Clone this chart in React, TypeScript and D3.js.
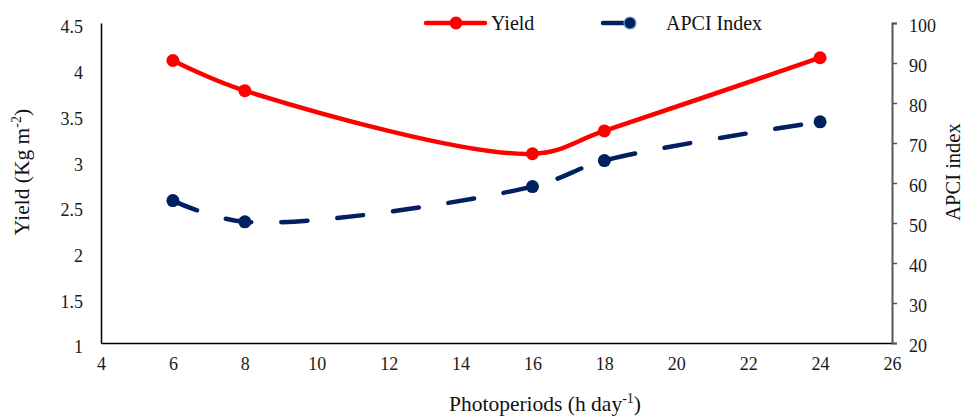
import React, { useEffect, useRef } from "react";
import * as d3 from "d3";

const photoperiods = [6, 8, 16, 18, 24];
const yieldValues = [4.09, 3.76, 3.07, 3.32, 4.12];
const apciValues = [55.6, 50.3, 59.1, 65.6, 75.3];

const xTicks = [4, 6, 8, 10, 12, 14, 16, 18, 20, 22, 24, 26];
const yieldTicks = [1, 1.5, 2, 2.5, 3, 3.5, 4, 4.5];
const apciTicks = [20, 30, 40, 50, 60, 70, 80, 90, 100];

const W = 966;
const H = 420;
const FONT = "'Liberation Serif', 'Times New Roman', serif";
const RED = "#ff0000";
const NAVY = "#002060";

export default function App() {
  const ref = useRef<SVGSVGElement>(null);

  useEffect(() => {
    const svg = d3.select(ref.current);
    svg.selectAll("*").remove();

    const left = 101, right = 892, top = 23, bottom = 343;

    const x = d3.scaleLinear().domain([4, 26]).range([left, right]);
    const yL = d3.scaleLinear().domain([1, 4.5]).range([bottom, top]);
    const yR = d3.scaleLinear().domain([20, 100]).range([bottom, top]);

    // left axis (no tick marks)
    const gl = svg.append("g").attr("transform", `translate(${left},0)`)
      .call(d3.axisLeft(yL).tickValues(yieldTicks).tickSize(0).tickPadding(18).tickFormat(d3.format("")))
      .attr("font-family", FONT).attr("font-size", 18);
    gl.select(".domain").attr("stroke", "#000").attr("stroke-width", 1.5);
    gl.selectAll("text").attr("fill", "#1a1a1a").attr("dy", "0.55em");

    // bottom axis
    const gb = svg.append("g").attr("transform", `translate(0,${bottom})`)
      .call(d3.axisBottom(x).tickValues(xTicks).tickSize(0).tickPadding(14))
      .attr("font-family", FONT).attr("font-size", 18);
    gb.select(".domain").attr("stroke", "#000").attr("stroke-width", 1.5);
    gb.selectAll("text").attr("fill", "#1a1a1a");

    // right axis
    const gr = svg.append("g").attr("transform", `translate(${right},0)`)
      .call(d3.axisRight(yR).tickValues(apciTicks).tickSizeInner(5).tickSizeOuter(5).tickPadding(12))
      .attr("font-family", FONT).attr("font-size", 18);
    gr.select(".domain").attr("stroke", "#555").attr("stroke-width", 2);
    gr.selectAll(".tick line").attr("stroke", "#555").attr("stroke-width", 1.5);
    gr.selectAll("text").attr("fill", "#1a1a1a").attr("dy", "0.45em");

    const curve = d3.curveCatmullRom.alpha(0.5);

    const yieldLine = d3.line<number>()
      .x((_, i) => x(photoperiods[i]))
      .y((d) => yL(d))
      .curve(curve);
    const apciLine = d3.line<number>()
      .x((_, i) => x(photoperiods[i]))
      .y((d) => yR(d))
      .curve(curve);

    svg.append("path").attr("d", apciLine(apciValues)).attr("fill", "none")
      .attr("stroke", NAVY).attr("stroke-width", 4.5).attr("stroke-linecap", "round")
      .attr("stroke-dasharray", "26 30");
    svg.selectAll(".apci-pt").data(apciValues).enter().append("circle")
      .attr("cx", (_, i) => x(photoperiods[i])).attr("cy", (d) => yR(d))
      .attr("r", 6.5).attr("fill", NAVY);

    svg.append("path").attr("d", yieldLine(yieldValues)).attr("fill", "none")
      .attr("stroke", RED).attr("stroke-width", 4.5);
    svg.selectAll(".yield-pt").data(yieldValues).enter().append("circle")
      .attr("cx", (_, i) => x(photoperiods[i])).attr("cy", (d) => yL(d))
      .attr("r", 6.5).attr("fill", RED);

    // legend
    const lg = svg.append("g").attr("font-family", FONT).attr("font-size", 20).attr("fill", "#111");
    lg.append("line").attr("x1", 426).attr("x2", 485).attr("y1", 23).attr("y2", 23)
      .attr("stroke", RED).attr("stroke-width", 4.5).attr("stroke-linecap", "round");
    lg.append("circle").attr("cx", 456).attr("cy", 23).attr("r", 6.5).attr("fill", RED);
    lg.append("text").attr("x", 491).attr("y", 30).text("Yield");
    lg.append("line").attr("x1", 603).attr("x2", 628).attr("y1", 23).attr("y2", 23)
      .attr("stroke", NAVY).attr("stroke-width", 4.5).attr("stroke-linecap", "round");
    lg.append("circle").attr("cx", 630).attr("cy", 23).attr("r", 6)
      .attr("fill", NAVY).attr("stroke", "#6fa0d8").attr("stroke-width", 1.2);
    lg.append("text").attr("x", 666).attr("y", 30).text("APCI Index");

    // axis titles
    const lt = svg.append("text").attr("font-family", FONT).attr("font-size", 21.5).attr("fill", "#111")
      .attr("text-anchor", "middle").attr("transform", "translate(29,172) rotate(-90)");
    lt.append("tspan").text("Yield (Kg m");
    lt.append("tspan").attr("font-size", 14).attr("dy", -8).text("-2");
    lt.append("tspan").attr("dy", 8).text(")");

    svg.append("text").attr("font-family", FONT).attr("font-size", 20.5).attr("fill", "#111")
      .attr("text-anchor", "middle").attr("transform", "translate(960,172) rotate(-90)")
      .text("APCI index");

    const bt = svg.append("text").attr("font-family", FONT).attr("font-size", 21.5).attr("fill", "#111")
      .attr("text-anchor", "middle").attr("x", 545).attr("y", 411);
    bt.append("tspan").text("Photoperiods (h day");
    bt.append("tspan").attr("font-size", 14).attr("dy", -8).text("-1");
    bt.append("tspan").attr("dy", 8).text(")");
  }, []);

  return (
    <div style={{ position: "absolute", left: 0, top: 0 }}>
      <svg ref={ref} width={W} height={H} style={{ display: "block", background: "#fff" }} />
    </div>
  );
}
